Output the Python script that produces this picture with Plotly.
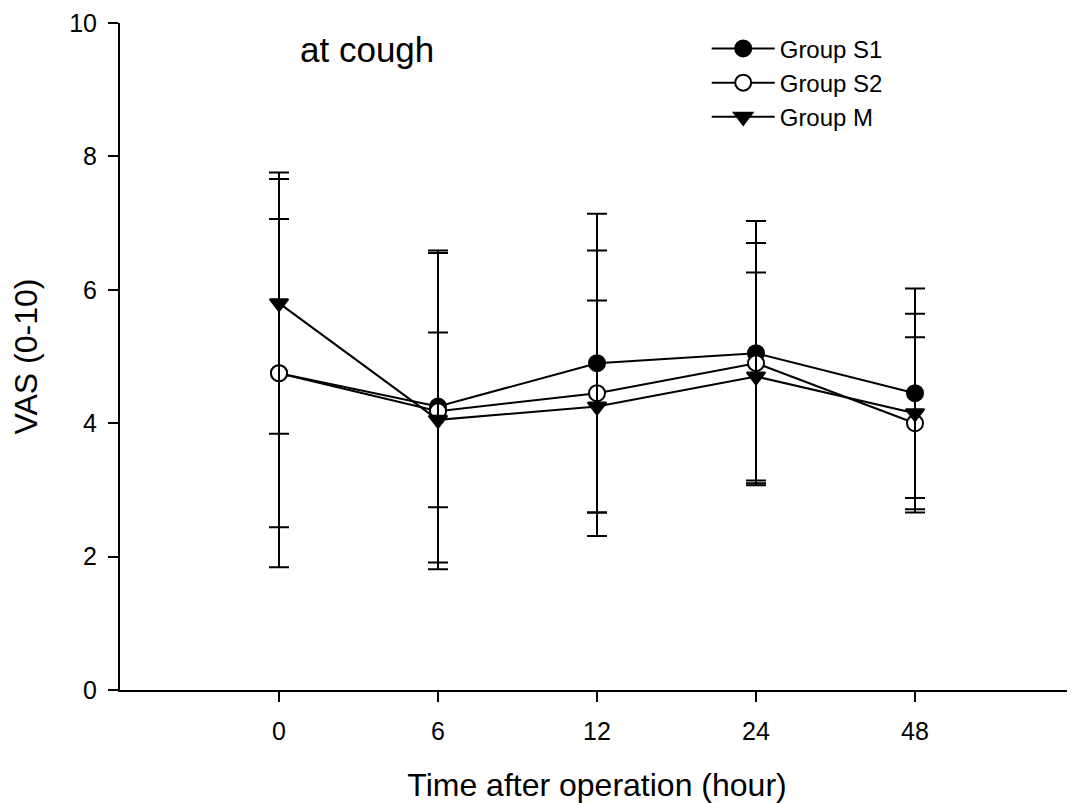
import plotly.graph_objects as go

# Data
time_labels = ["0", "6", "12", "24", "48"]

s1_mean = [4.75, 4.25, 4.90, 5.05, 4.45]
s1_sd = [2.31, 2.34, 2.24, 1.98, 1.57]

s2_mean = [4.75, 4.18, 4.45, 4.90, 4.00]
s2_sd = [2.91, 2.37, 2.14, 1.80, 1.29]

m_mean = [5.80, 4.05, 4.25, 4.70, 4.15]
m_sd = [1.96, 1.31, 1.59, 1.56, 1.49]

y_ticks = [0, 2, 4, 6, 8, 10]

FONT = "Liberation Sans, Arial, Helvetica, sans-serif"

fig = go.Figure()


def add_group(name, mean, sd, symbol, fill):
    fig.add_trace(go.Scatter(
        x=time_labels,
        y=mean,
        name=name,
        mode="lines+markers",
        line=dict(color="black", width=2),
        marker=dict(symbol=symbol, size=16, color=fill,
                    line=dict(color="black", width=2)),
        error_y=dict(type="data", array=sd, arrayminus=sd, visible=True,
                     color="black", thickness=2, width=10),
    ))


add_group("Group S1", s1_mean, s1_sd, "circle", "black")
add_group("Group S2", s2_mean, s2_sd, "circle", "white")
add_group("Group M", m_mean, m_sd, "triangle-down", "black")

fig.update_layout(
    width=1067,
    height=795,
    margin=dict(l=112, r=1, t=12, b=113),
    paper_bgcolor="white",
    plot_bgcolor="white",
    font=dict(family=FONT, color="black", size=25),
    showlegend=True,
    legend=dict(
        x=0.615, y=0.995, xanchor="left", yanchor="top",
        bgcolor="rgba(0,0,0,0)",
        font=dict(size=24, family=FONT),
        itemwidth=63,
        tracegroupgap=0,
    ),
    annotations=[dict(
        text="at cough", xref="paper", yref="paper",
        x=0.259, y=0.96, xanchor="center", yanchor="middle",
        showarrow=False, font=dict(size=35, family=FONT, color="black"),
    )],
)

fig.update_xaxes(
    type="category",
    categoryorder="array",
    categoryarray=time_labels,
    range=[-1, 5],
    showgrid=False, zeroline=False,
    showline=True, linecolor="black", linewidth=2,
    ticks="outside", ticklen=10, tickwidth=2, tickcolor="black",
    ticklabelstandoff=8,
    tickfont=dict(size=25, family=FONT),
    title=dict(text="Time after operation (hour)", font=dict(size=32, family=FONT), standoff=31),
)

fig.update_yaxes(
    range=[0, 10],
    tickvals=y_ticks,
    ticktext=[str(v) for v in y_ticks],
    showgrid=False, zeroline=False,
    showline=True, linecolor="black", linewidth=2,
    ticks="outside", ticklen=10, tickwidth=2, tickcolor="black",
    ticklabelstandoff=6,
    ticklabeloverflow="allow",
    tickfont=dict(size=25, family=FONT),
    title=dict(text="VAS (0-10)", font=dict(size=32, family=FONT), standoff=31),
)

fig.write_html("out.html")
